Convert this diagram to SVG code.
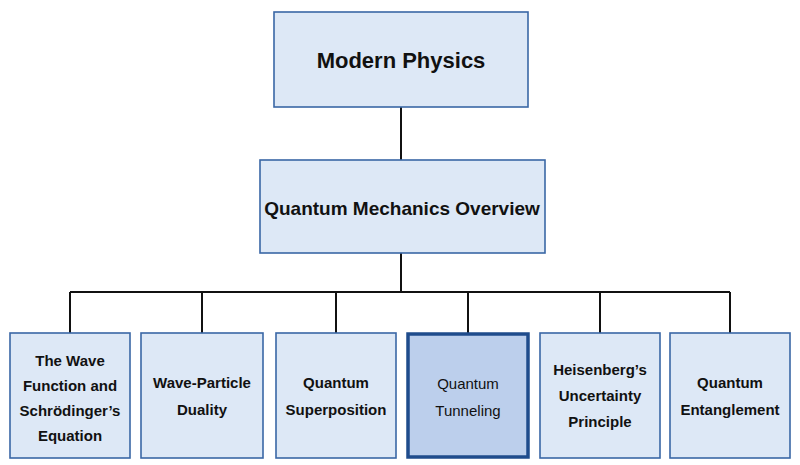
<svg xmlns="http://www.w3.org/2000/svg" width="800" height="465" viewBox="0 0 800 465">
<style>
.b{fill:#dde8f6;stroke:#3a67a6;stroke-width:1.6}
.h{fill:#bccfec;stroke:#1f4c8c;stroke-width:3.5}
.t{font-family:"Liberation Sans",Arial,sans-serif;fill:#111;text-anchor:middle}
.c{stroke:#111;stroke-width:2;fill:none}
</style>
<rect width="800" height="465" fill="#fff"/>
<g id="connectors">
<line class="c" x1="401" y1="107" x2="401" y2="160"/>
<line class="c" x1="401" y1="253" x2="401" y2="292"/>
<line class="c" x1="70" y1="292" x2="730" y2="292"/>
<line class="c" x1="70" y1="292" x2="70" y2="333"/>
<line class="c" x1="202" y1="292" x2="202" y2="333"/>
<line class="c" x1="336" y1="292" x2="336" y2="333"/>
<line class="c" x1="468" y1="292" x2="468" y2="333"/>
<line class="c" x1="600" y1="292" x2="600" y2="333"/>
<line class="c" x1="730" y1="292" x2="730" y2="333"/>
</g>
<g id="n0"><rect class="b" x="274" y="12" width="254" height="95"/><text class="t" x="401" y="68" font-size="22" font-weight="bold">Modern Physics</text></g>
<g id="n1"><rect class="b" x="260" y="160" width="285" height="93"/><text class="t" x="402" y="215" font-size="19" font-weight="bold">Quantum Mechanics Overview</text></g>
<g id="n2"><rect class="b" x="10" y="333" width="120" height="125"/><text class="t" font-size="15" font-weight="bold"><tspan x="70" y="366">The Wave</tspan><tspan x="70" y="391">Function and</tspan><tspan x="70" y="416">Schrödinger’s</tspan><tspan x="70" y="441">Equation</tspan></text></g>
<g id="n3"><rect class="b" x="141" y="333" width="122" height="125"/><text class="t" font-size="15" font-weight="bold"><tspan x="202" y="388">Wave-Particle</tspan><tspan x="202" y="415">Duality</tspan></text></g>
<g id="n4"><rect class="b" x="276" y="333" width="120" height="125"/><text class="t" font-size="15" font-weight="bold"><tspan x="336" y="388">Quantum</tspan><tspan x="336" y="415">Superposition</tspan></text></g>
<g id="n5"><rect class="h" x="408" y="334" width="120" height="123"/><text class="t" font-size="15"><tspan x="468" y="389">Quantum</tspan><tspan x="468" y="416">Tunneling</tspan></text></g>
<g id="n6"><rect class="b" x="540" y="333" width="120" height="125"/><text class="t" font-size="15" font-weight="bold"><tspan x="600" y="375">Heisenberg’s</tspan><tspan x="600" y="401">Uncertainty</tspan><tspan x="600" y="427">Principle</tspan></text></g>
<g id="n7"><rect class="b" x="670" y="333" width="120" height="125"/><text class="t" font-size="15" font-weight="bold"><tspan x="730" y="388">Quantum</tspan><tspan x="730" y="415">Entanglement</tspan></text></g>
</svg>
